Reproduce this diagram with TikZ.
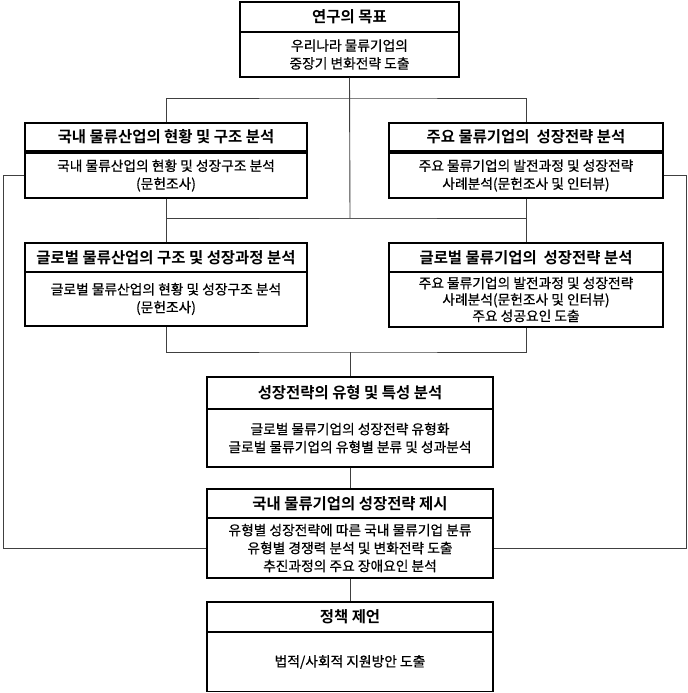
\documentclass[tikz,border=0pt]{standalone}
\usepackage{fontspec}
\setmainfont{Noto Sans CJK KR}[BoldFont={Noto Sans CJK KR Bold}]
\newfontface\bodyface{Noto Sans CJK KR}[FakeBold=0.6]
\usetikzlibrary{positioning}

\begin{document}
\begin{tikzpicture}[x=1bp, y=-1bp,
  head/.style={draw, line width=1.1bp, inner sep=0pt, font=\bfseries\fontsize{15.5}{18}\selectfont},
  body/.style={draw, line width=1.1bp, inner sep=0pt, align=center, font=\bodyface\fontsize{13.8}{18}\selectfont},
  link/.style={black!75, line width=0.9bp}]
\useasboundingbox (0,0) rectangle (688,693);

% top
\node[head, minimum width=219bp, minimum height=30bp] (h0) at (349.5,17) {연구의 목표};
\node[body, minimum width=219bp, minimum height=45bp] (b0) at (349.5,54.5) {우리나라 물류기업의\\중장기 변화전략 도출};

% row 1
\node[head, minimum width=282bp, minimum height=28bp] (h2) at (166,137) {국내 물류산업의 현황 및 구조 분석};
\node[body, minimum width=282bp, minimum height=45bp] (b2) at (166,175.5) {국내 물류산업의 현황 및 성장구조 분석\\(문헌조사)};
\node[head, minimum width=274bp, minimum height=28bp] (h3) at (526,137) {주요 물류기업의~ 성장전략 분석};
\node[body, minimum width=274bp, minimum height=45bp] (b3) at (526,175.5) {주요 물류기업의 발전과정 및 성장전략\\사례분석(문헌조사 및 인터뷰)};

% row 2
\node[head, minimum width=282bp, minimum height=29bp] (h4) at (166,257.5) {글로벌 물류산업의 구조 및 성장과정 분석};
\node[body, minimum width=282bp, minimum height=54bp] (b4) at (166,299) {글로벌 물류산업의 현황 및 성장구조 분석\\(문헌조사)};
\node[head, minimum width=274bp, minimum height=29bp] (h5) at (526,257.5) {글로벌 물류기업의~ 성장전략 분석};
\node[body, minimum width=274bp, minimum height=55bp, font=\bodyface\fontsize{13.8}{16.5}\selectfont] (b5) at (526,299.5) {주요 물류기업의 발전과정 및 성장전략\\사례분석(문헌조사 및 인터뷰)\\주요 성공요인 도출};

% lower column
\node[head, minimum width=286bp, minimum height=32bp] (h6) at (350,393) {성장전략의 유형 및 특성 분석};
\node[body, minimum width=286bp, minimum height=58bp] (b6) at (350,438) {글로벌 물류기업의 성장전략 유형화\\글로벌 물류기업의 유형별 분류 및 성과분석};
\node[head, minimum width=286bp, minimum height=29bp] (h7) at (350,503.5) {국내 물류기업의 성장전략 제시};
\node[body, minimum width=286bp, minimum height=60bp] (b7) at (350,548) {유형별 성장전략에 따른 국내 물류기업 분류\\유형별 경쟁력 분석 및 변화전략 도출\\추진과정의 주요 장애요인 분석};
\node[head, minimum width=286bp, minimum height=30bp] (h8) at (350,617) {정책 제언};
\node[body, minimum width=286bp, minimum height=59bp] (b8) at (350,662) {법적/사회적 지원방안 도출};

% junctions
\coordinate (j1) at (350,98);
\coordinate (j2) at (350,218);
\coordinate (j3) at (350,352);
\coordinate (cL) at (3,548);
\coordinate (cR) at (686,548);

\draw[link] (b0.south) -- (j2);
\draw[link] (h2.north) |- (j1) -| (h3.north);
\draw[link] (b2.south) |- (j2) -| (b3.south);
\draw[link] (h4.north) |- (j2) -| (h5.north);
\draw[link] (b4.south) |- (j3) -| (b5.south);
\draw[link] (j3) -- (h6.north);
\draw[link] (b6.south) -- (h7.north);
\draw[link] (b7.south) -- (h8.north);
% side lines
\draw[link] (b2.west) -| (cL) -- (b7.west);
\draw[link] (b3.east) -| (cR) -- (b7.east);
\end{tikzpicture}
\end{document}
